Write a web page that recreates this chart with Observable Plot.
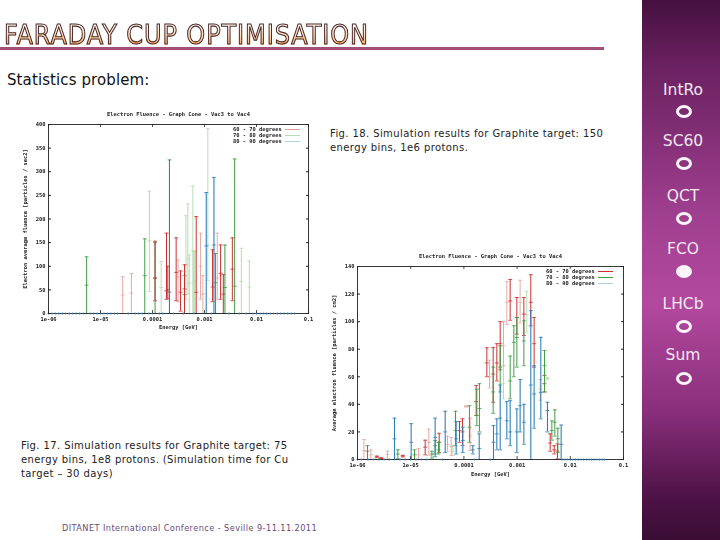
<!DOCTYPE html>
<html><head><meta charset="utf-8">
<script src="https://cdn.jsdelivr.net/npm/d3@7"></script>
<script src="https://cdn.jsdelivr.net/npm/@observablehq/plot@0.6"></script>
<style>
html,body{margin:0;padding:0;background:#fff}
#slide{position:relative;width:720px;height:540px;overflow:hidden;background:#fff;font-family:"DejaVu Sans",sans-serif;color:#111}
#slide>*{position:absolute}
#title{left:4px;top:19px;font:27px "DejaVu Sans",sans-serif;letter-spacing:1px;white-space:nowrap;background:linear-gradient(#fffaf2 20%,#ffdcb8 55%,#f7a860 85%);-webkit-background-clip:text;background-clip:text;color:transparent;-webkit-text-stroke:1.1px #4a2a2a;transform-origin:left top;transform:scaleX(.89)}
#rule{left:0;top:47px;width:604px;height:3px;background:#a24f78}
.t{white-space:nowrap;font-size:10px;line-height:14px;letter-spacing:.4px;color:#222}
#stat{left:7px;top:71px;font-size:15px;color:#111;letter-spacing:.1px;white-space:nowrap}
#foot{left:62px;top:523px;font-size:8.2px;letter-spacing:.42px;color:#6b4a78;white-space:nowrap}
#side{left:642px;top:0;width:78px;height:540px;background:linear-gradient(#45103f 0,#6a2160 12%,#a03f90 40%,#b3499f 56%,#8a2f7c 76%,#4d1346 92%,#3a0d35 100%)}
.lab{left:642px;width:82px;text-align:center;color:#f4e8f2;font-size:15.5px;white-space:nowrap}
.ring{width:10px;height:7px;border:3px solid #fbf5fa;border-radius:50%;left:676px}
.ring.on{background:#fbf5fa}
.leg{font:bold 5.4px "DejaVu Sans Mono",monospace;color:#222;line-height:6.2px;white-space:pre;filter:blur(.3px)}
.leg i{display:inline-block;width:15px;height:1px;vertical-align:middle;margin-left:3px}
svg.p{position:absolute;filter:blur(.3px);background:transparent}
</style></head><body>
<div id="slide">
<div id="title">FARADAY CUP OPTIMISATION</div><div id="rule"></div>
<div id="stat">Statistics problem:</div>
<div class="t" style="left:330px;top:127px">Fig. 18. Simulation results for Graphite target: 150<br>energy bins, 1e6 protons.</div>
<div class="t" style="left:21px;top:439px">Fig. 17. Simulation results for Graphite target: 75<br>energy bins, 1e8 protons. (Simulation time for Cu<br>target – 30 days)</div>
<div id="foot">DITANET International Conference - Seville 9-11.11.2011</div>
<div id="side"></div>
</div>
<script>
// Shared axis
const xDomain = [1e-6, 0.1];
const xTicks = [1e-6, 1e-5, 1e-4, 1e-3, 1e-2, 1e-1];
const xTickLabels = ["1e-06", "1e-05", "0.0001", "0.001", "0.01", "0.1"];
const plotTitle = "Electron Fluence - Graph Cone - Vac3 to Vac4";
const xLabel = "Energy [GeV]";
const legendLabels = ["60 - 70 degrees", "70 - 80 degrees", "80 - 90 degrees"];
const navItems = ["IntRo", "SC60", "QCT", "FCO", "LHCb", "Sum"];

// Fig. 17 (75 bins): empty bins sitting on zero
const zeroBins17 = [1e-6,1.17e-6,1.36e-6,1.58e-6,1.85e-6,2.15e-6,2.51e-6,2.93e-6,3.41e-6,3.98e-6,4.64e-6,6.31e-6,7.36e-6,8.58e-6,1e-5,1.17e-5,1.36e-5,1.58e-5,1.85e-5,2.15e-5,3.41e-5,4.64e-5,5.41e-5,6.31e-5,8.58e-5,1e-4,1.36e-4,1.58e-4,2.51e-4,3.98e-4,6.31e-4,1.36e-3,2.93e-3,4.64e-3,6.31e-3,8.58e-3,1e-2,1.17e-2,1.36e-2,1.58e-2,1.85e-2,2.15e-2,2.51e-2,2.93e-2,3.41e-2,3.98e-2,4.64e-2,5.41e-2];

const red17E    = [1.12e-4,1.86e-4,1.97e-4,2.85e-4,3.46e-4,4.13e-4,6.93e-4,1.43e-3,2.04e-3,2.30e-3,3.43e-3];
const red17Hi   = [153,170,100,160,90,103,205,135,145,82,160];
const red17Mid  = [75,48,50,87,45,52,45,56,85,41,94];
const red17Lo   = [27,30,32,27,5,0,0,25,30,0,27];

const paleRed17E   = [2.67e-5,3.93e-5,3.1e-4,8.39e-4,9.31e-4,1.76e-3];
const paleRed17Hi  = [78,85,113,170,80,170];
const paleRed17Mid = [39,43,77,100,41,75];
const paleRed17Lo  = [0,0,25,30,0,30];

const green17E   = [5.41e-6,7.10e-5,1.12e-4,4.13e-4,1.63e-3,2.47e-3,3.80e-3];
const green17Hi  = [120,158,150,80,127,145,327];
const green17Mid = [60,80,75,40,65,55,58];
const green17Lo  = [0,0,0,0,0,0,0];

const paleGreen17E   = [8.73e-5,1.47e-4,4.4e-4,4.79e-4,5.1e-4,5.97e-4,6.2e-4,6.5e-4,1.16e-3,5.11e-3,7.28e-3];
const paleGreen17Hi  = [259,110,207,232,124,270,131,132,391,138,111];
const paleGreen17Mid = [154,55,104,116,64,133,65,70,145,68,56];
const paleGreen17Lo  = [47,0,30,40,0,0,0,0,70,0,0];

const blue17E   = [2.12e-4,1.08e-3,1.52e-3];
const blue17Hi  = [325,256,288];
const blue17Mid = [45,143,145];
const blue17Lo  = [0,0,0];

// Fig. 18 (150 bins)
const zeroBins18 = [1e-6,1.17e-6,1.58e-6,2.0e-6,2.51e-6,3.16e-6,3.98e-6,5.01e-6,6.31e-6,7.94e-6,1e-5,1.26e-5,1.58e-5,2.0e-5,3.98e-5,1.58e-4,3.16e-4,7.01e-3,7.94e-3,8.9e-3,1e-2,1.12e-2,1.26e-2,1.41e-2,1.58e-2,1.78e-2,2.0e-2,2.24e-2,2.51e-2,2.82e-2,3.16e-2,3.55e-2,3.98e-2,4.47e-2];

const red18E   = [2.31e-6,2.79e-6,7.11e-6,1.87e-5,3.43e-5,8.26e-5,9.42e-5,1.70e-4,2.70e-4,3.55e-4,4.16e-4,4.81e-4,7.41e-4,9.89e-4,1.34e-3,1.81e-3,2.09e-3,3.27e-3,4.19e-3,4.98e-3,5.74e-3];
const red18Hi  = [2.5,1.2,3,14,19,27.5,29.5,53.6,81,81.3,84,100,130.6,117.5,117.5,134,103,61,18.6,10,11.3];
const red18Mid = [2,1,2.5,9,12.5,21,20,42,70,62,70,84,115,103,105.5,114,84,55,12,7,6];
const red18Lo  = [1.2,.6,1.8,3.4,5,12.5,10,32,60,41.5,57,65,101,91,90,97,67,49,6,4,.5];

const paleRed18E   = [1.32e-6,1.78e-6,3.66e-6,1.40e-5,2.19e-5,4.92e-5,5.77e-5,1.10e-4,1.31e-4,3.03e-4,5.55e-4,6.41e-4,1.14e-3,2.72e-3];
const paleRed18Hi  = [14.5,7,6,8,22,17,16,39,30,72,100,129,130,58];
const paleRed18Mid = [6.5,3.4,3.6,3.4,12.5,11,9.4,38.5,17,60,82.5,114,114,51];
const paleRed18Lo  = [0,0,.5,0,3,6,3,38,6.5,52,68,98,99,43];

const green18E   = [1.54e-6,5.73e-6,1.18e-5,2.50e-5,2.88e-5,3.33e-5,6.95e-5,1.27e-4,1.75e-4,1.96e-4,3.55e-4,4.81e-4,7.41e-4,8.69e-4,9.89e-4,1.34e-3,3.27e-3,4.50e-3,5.12e-3,5.83e-3];
const green18Hi  = [10,7,7,6,13.8,12.5,35,39,51,55,67,82.5,75,97,103,100.6,79,28,36,22.7];
const green18Mid = [6,4,3.4,4,10,7,21,23.4,32,37,49,67,57,85,88.5,86,68,21,27,15];
const green18Lo  = [0,.5,0,1,4,4,10,12.5,24.6,20,33.5,49,44,60,67,68,49,14,17,5];

const paleGreen18E   = [6.19e-5,5.55e-4,1.52e-3,3.72e-3];
const paleGreen18Hi  = [10,68,122,59.6];
const paleGreen18Mid = [6,55,105,59];
const paleGreen18Lo  = [3,44,92,58];

const blue18E   = [4.96e-6,1.02e-5,2.88e-5,4.45e-5,7.16e-5,9.55e-5,1.47e-4,1.94e-4,3.60e-4,4.16e-4,4.81e-4,6.41e-4,7.41e-4,9.89e-4,1.14e-3,1.34e-3,1.81e-3,2.09e-3,2.79e-3,3.72e-3,6.73e-3];
const blue18Hi  = [30,26,30,35,27.5,23.4,10,18.6,24.6,29.5,54,42,42.7,36.7,58,40,108,68,88.6,41.5,25];
const blue18Mid = [15,12.5,16,20,15,13.8,7,8,12.5,18.6,30,28,20,20,39,27,54,47.5,48.7,35.5,11];
const blue18Lo  = [0,0,2,5,4,5,4,0,0,7,7,15,10,5,20,11,0,22.7,29.5,20,0];

const rows = (e, hi, mid, lo) => e.map((x, i) => ({x, hi: hi[i], mid: mid[i], lo: lo[i]}));
const cap = {draw(c){c.moveTo(-2,0);c.lineTo(2,0);}};
const bars = (d, stroke, w) => [
  Plot.ruleX(d, {x:"x", y1:"lo", y2:"hi", stroke, strokeWidth:w}),
  Plot.dot(d, {x:"x", y:"hi", symbol:cap, stroke, strokeWidth:.8}),
  Plot.dot(d, {x:"x", y:"lo", symbol:cap, stroke, strokeWidth:.8}),
  Plot.dot(d, {x:"x", y:"mid", symbol:cap, stroke, strokeWidth:.8})
];
const C = {red:"#c9302f", pr:"#e9a9a6", g:"#3f9c45", pg:"#b6dcb4", b:"#2f80b8"};

function chart(o){
  const tickLen = o.yMax * 3 / (o.h - o.mt - o.mb);
  const fig = Plot.plot({
    width:o.w, height:o.h, marginLeft:o.ml, marginRight:o.mr, marginTop:o.mt, marginBottom:o.mb,
    className:"p",
    style:{fontFamily:"'DejaVu Sans Mono',monospace", fontSize:"5.4px", fontWeight:"bold", color:"#222", background:"transparent", left:o.left+"px", top:o.top+"px"},
    x:{type:"log", domain:xDomain, axis:null},
    y:{domain:[0,o.yMax], axis:null},
    marks:[
      ...o.series,
      Plot.frame({stroke:"#222", strokeWidth:.9}),
      Plot.dot(o.zero, {x:d=>d, y:()=>0, r:.9, fill:"#2f6fa8"}),
      Plot.ruleX(xTicks, {x:d=>d, y1:0, y2:tickLen, stroke:"#222", strokeWidth:.8}),
      Plot.ruleX(xTicks, {x:d=>d, y1:o.yMax-tickLen, y2:o.yMax, stroke:"#222", strokeWidth:.8}),
      Plot.text(xTicks, {x:d=>d, text:(d,i)=>xTickLabels[i], frameAnchor:"bottom", dy:7, fill:"#222"}),
      Plot.text([xLabel], {frameAnchor:"bottom", dy:o.xLabelDy, fill:"#222"}),
      Plot.axisY({ticks:o.yTicks, tickSize:-3, tickPadding:6, label:o.yLabel, labelAnchor:"center", labelArrow:"none", labelOffset:o.labelOffset}),
      Plot.axisY({anchor:"right", ticks:o.yTicks, tickSize:-3, tickFormat:()=>"", label:null}),
      Plot.text([plotTitle], {frameAnchor:"top", dy:-12, fill:"#222"})
    ]
  });
  document.getElementById("slide").appendChild(fig);
}

chart({left:8,top:104,w:311,h:233,ml:40,mr:11,mt:20,mb:24,yMax:400,yTicks:[0,50,100,150,200,250,300,350,400],
  yLabel:"Electron average fluence [particles / sec2]",labelOffset:25,xLabelDy:15,zero:zeroBins17,
  series:[
    ...bars(rows(paleGreen17E,paleGreen17Hi,paleGreen17Mid,paleGreen17Lo),C.pg,1),
    ...bars(rows(paleRed17E,paleRed17Hi,paleRed17Mid,paleRed17Lo),C.pr,1),
    ...bars(rows(green17E,green17Hi,green17Mid,green17Lo),C.g,1),
    ...bars(rows(red17E,red17Hi,red17Mid,red17Lo),C.red,1),
    ...bars(rows(blue17E,blue17Hi,blue17Mid,blue17Lo),C.b,1.1)
  ]});

chart({left:327,top:245,w:307,h:240,ml:30,mr:11,mt:21,mb:26,yMax:140,yTicks:[0,20,40,60,80,100,120,140],
  yLabel:"Average electron fluence [particles / cm2]",labelOffset:25,xLabelDy:16,zero:zeroBins18,
  series:[
    ...bars(rows(paleGreen18E,paleGreen18Hi,paleGreen18Mid,paleGreen18Lo),C.pg,1),
    ...bars(rows(paleRed18E,paleRed18Hi,paleRed18Mid,paleRed18Lo),C.pr,1),
    ...bars(rows(red18E,red18Hi,red18Mid,red18Lo),C.red,1),
    ...bars(rows(green18E,green18Hi,green18Mid,green18Lo),C.g,1),
    ...bars(rows(blue18E,blue18Hi,blue18Mid,blue18Lo),C.b,1.1)
  ]});

// In-plot legends and the navigation column
const slide = document.getElementById("slide");
function legend(left, top, colours){
  const d = document.createElement("div");
  d.className = "leg"; d.style.left = left+"px"; d.style.top = top+"px";
  legendLabels.forEach((t,i)=>{
    const l = document.createElement("div");
    l.textContent = t;
    const s = document.createElement("i"); s.style.background = colours[i];
    l.appendChild(s); d.appendChild(l);
  });
  slide.appendChild(d);
}
legend(233,126,["#e39a96",C.pg,"#a9d0e6"]);
legend(546,268,[C.red,C.g,"#a9d0e6"]);

const labTop = [81,132,187,240,295,346];
const ringTop = [105,157,212,265,320,372];
navItems.forEach((t,i)=>{
  const l = document.createElement("div");
  l.className="lab"; l.textContent=t; l.style.top=labTop[i]+"px"; slide.appendChild(l);
  const r = document.createElement("div");
  r.className="ring"+(t==="FCO"?" on":""); r.style.top=ringTop[i]+"px"; slide.appendChild(r);
});
</script>
</body></html>
